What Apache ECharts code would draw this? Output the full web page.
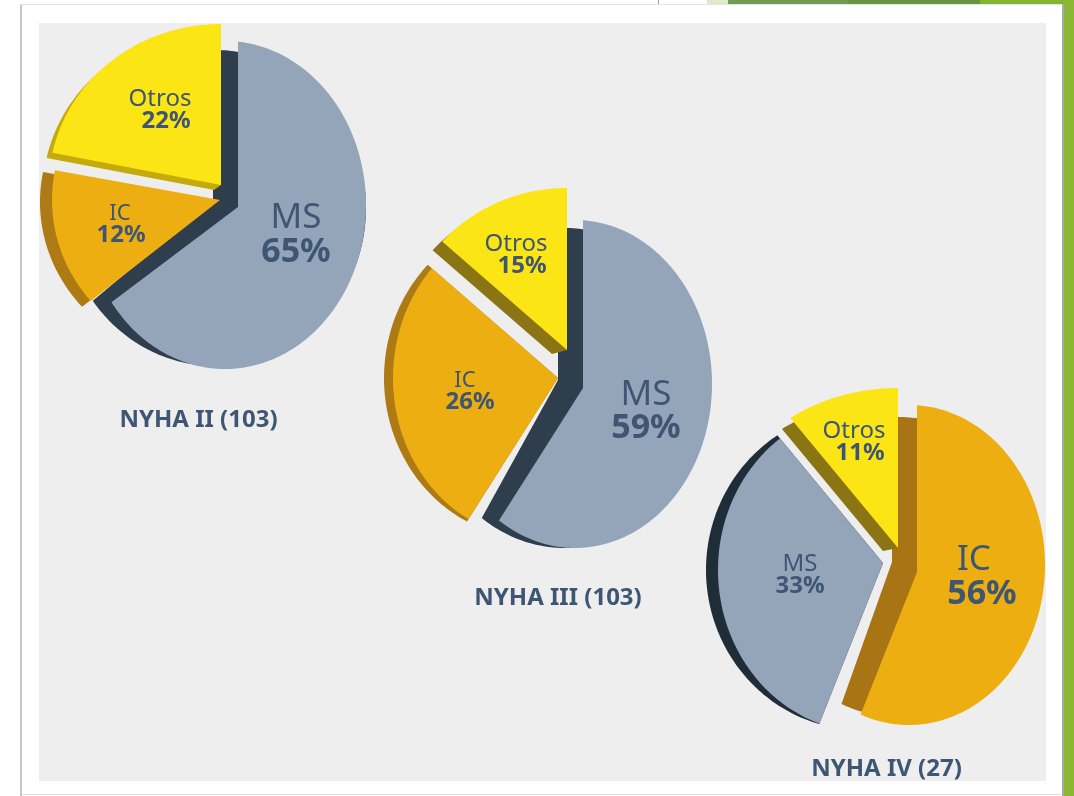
<!DOCTYPE html>
<html><head><meta charset="utf-8">
<style>html,body{margin:0;padding:0;background:#fff}#c{width:1074px;height:796px}</style>
<script src="https://cdn.jsdelivr.net/npm/echarts@6/dist/echarts.min.js"></script>
</head><body><div id="c"></div>
<script>
// ---------- data ----------
const pieTitles = ['NYHA II (103)', 'NYHA III (103)', 'NYHA IV (27)'];
const sliceNames = ['MS', 'IC', 'Otros'];
const msValues = [65, 59, 33];
const icValues = [12, 26, 56];
const otrosValues = [22, 15, 11];
// clockwise order of the slices from 12 o'clock, per pie
const sliceOrder = [['MS','IC','Otros'], ['MS','IC','Otros'], ['IC','MS','Otros']];

// ---------- layout (geometry of the tilted, exploded faces) ----------
// a: apex, e: [cx, cy, rx, ry] of the face ellipse; sa/se: same for the side;
// d: perspective nudge of the edges in degrees; sd: extra nudge of the side's edges; join: side reaches the face apex
const colors = {
  MS:    {face:'#94a5ba', side:['#2e3e4c','#2e3e4c','#1f2d38']},
  IC:    {face:'#ecae10', side:['#ae7a14','#ae7a14','#a87414']},
  Otros: {face:'#fce515', side:['#c4aa0a','#8a7414','#8a7414']}
};
const geometry = [
  { MS:   {a:[238,207], e:[225,205,141,164], sa:[213,200], se:[215,208,151,158], d:[0,-1], sd:[0,-3]},
    Otros:{a:[221,185], e:[221,185,172,161], sa:[214,190], se:[215,191,172,161], join:true},
    IC:   {a:[220,200], e:[224,200,172,160], sa:[215,203], se:[212,202,172,160], d:[-2,3]} },
  { MS:   {a:[583,388], e:[575,384,137,164], sa:[558,380], se:[565,388,143,160], sd:[0,-3.5]},
    Otros:{a:[567,350], e:[567,350,168,162], sa:[552,354], se:[558,358,168,162], d:[5,0], join:true},
    IC:   {a:[558,378], e:[536,378,143,160], sa:[558,378], se:[533,378,149,160], d:[0,5]} },
  { IC:   {a:[917,572], e:[909,565,136,160], sa:[892,562], se:[899,567,141,150], sd:[0,-2]},
    MS:   {a:[883,563], e:[867,570,149,162], sa:[883,563], se:[861,570,155,160]},
    Otros:{a:[898,548], e:[898,548,185,160], sa:[883,551], se:[888,560,185,160], join:true} }
];
const drawOrder = [['MS','Otros','IC'], ['MS','Otros','IC'], ['IC','MS','Otros']];
const labelPos = [
  { MS:[[296,218],[296,252],35,34], IC:[[120,214],[121,235],22,24], Otros:[[160,99],[166,121],24,24] },
  { MS:[[646,395],[646,428],35,34], IC:[[465,381],[470,402],22,24], Otros:[[516,244],[522,266],24,24] },
  { IC:[[974,560],[982,594],35,34], MS:[[800,564],[800,586],24,24], Otros:[[854,431],[860,453],24,24] }
];
const titlePos = [[193.5,403],[553,581],[881.5,752]];
const FONT = '"Noto Sans", sans-serif';
const TEXT = '#3e5674';
const TOTAL = 100;

const valueOf = {MS:msValues, IC:icValues, Otros:otrosValues};
const rad = d => d*Math.PI/180;

function rayHit(a, e, th) {
  const dx = Math.sin(th), dy = -Math.cos(th);
  const ox = (a[0]-e[0])/e[2], oy = (a[1]-e[1])/e[3];
  const px = dx/e[2], py = dy/e[3];
  const A = px*px+py*py, B = 2*(ox*px+oy*py), C = ox*ox+oy*oy-1;
  const t = (-B+Math.sqrt(Math.max(0,B*B-4*A*C)))/(2*A);
  return [a[0]+t*dx, a[1]+t*dy];
}
function wedge(a, e, t0, t1, join) {
  const pts = [a.slice()], n = Math.max(2, Math.ceil((t1-t0)/0.02));
  for (let i=0;i<=n;i++) pts.push(rayHit(a, e, t0+(t1-t0)*i/n));
  if (join) pts.push(join.slice());
  return pts;
}
// one custom series per pie; rows: [sliceIndex, value, valueBefore]
const series = pieTitles.map((title, p) => {
  const order = sliceOrder[p];
  const rows = drawOrder[p].map(name => {
    let before = 0;
    for (const n of order) { if (n===name) break; before += valueOf[n][p]; }
    // "Otros" closes the circle at 12 o'clock
    if (name==='Otros') before = TOTAL - valueOf[name][p];
    return [sliceNames.indexOf(name), valueOf[name][p], before];
  });
  return {
    type:'custom', name:title, coordinateSystem:'none', silent:true, animation:false,
    data: rows,
    renderItem(params, api) {
      const name = sliceNames[api.value(0)], v = api.value(1);
      const g = geometry[p][name], c = colors[name], l = labelPos[p][name];
      const d = g.d||[0,0], sd = g.sd||[0,0];
      const t0 = api.value(2)/TOTAL*2*Math.PI + rad(d[0]);
      const t1 = (api.value(2)+v)/TOTAL*2*Math.PI + rad(d[1]);
      return {type:'group', children:[
        {type:'polygon', shape:{points:wedge(g.sa,g.se,t0+rad(sd[0]),t1+rad(sd[1]),g.join?g.a:null)}, style:{fill:c.side[p]}},
        {type:'polygon', shape:{points:wedge(g.a,g.e,t0,t1)}, style:{fill:c.face}},
        {type:'text', z2:10, style:{text:name, x:l[0][0], y:l[0][1], align:'center', verticalAlign:'middle',
          font:'400 '+l[2]+'px '+FONT, fill:TEXT}},
        {type:'text', z2:10, style:{text:v+'%', x:l[1][0], y:l[1][1], align:'center', verticalAlign:'middle',
          font:'700 '+l[3]+'px '+FONT, fill:TEXT}}
      ]};
    }
  };
});

const rect = (x,y,w,h,fill,z) => ({type:'rect', z:z||0, silent:true, shape:{x,y,width:w,height:h}, style:{fill}});
const chart = echarts.init(document.getElementById('c'), null, {renderer:'canvas'});
chart.setOption({
  animation:false,
  backgroundColor:'#ffffff',
  title: pieTitles.map((t,i)=>({text:t, left:titlePos[i][0], top:titlePos[i][1], textAlign:'center',
    textStyle:{fontFamily:FONT, fontWeight:700, fontSize:24, color:TEXT}})),
  graphic:{elements:[
    rect(20,4,2,792,'#c6c6c6',-10),
    rect(20,4,1042,1,'#e4e4e4',-10),
    rect(22,794,1040,1,'#e0e0e0',-10),
    rect(39,23,1007,758,'#eeeeee',-9),
    rect(1062,4,2,792,'#a9a9a9',-10),
    rect(1064,0,10,796,'#8ab832',-10),
    rect(707,0,21,4,'#dfe9c8',-10),
    rect(728,0,120,4,'#6f9b52',-10),
    rect(848,0,132,4,'#679540',-10),
    rect(980,0,84,4,'#85b52f',-10),
    rect(658,0,1,4,'#9a9a9a',-10)
  ]},
  series
});
</script></body></html>
